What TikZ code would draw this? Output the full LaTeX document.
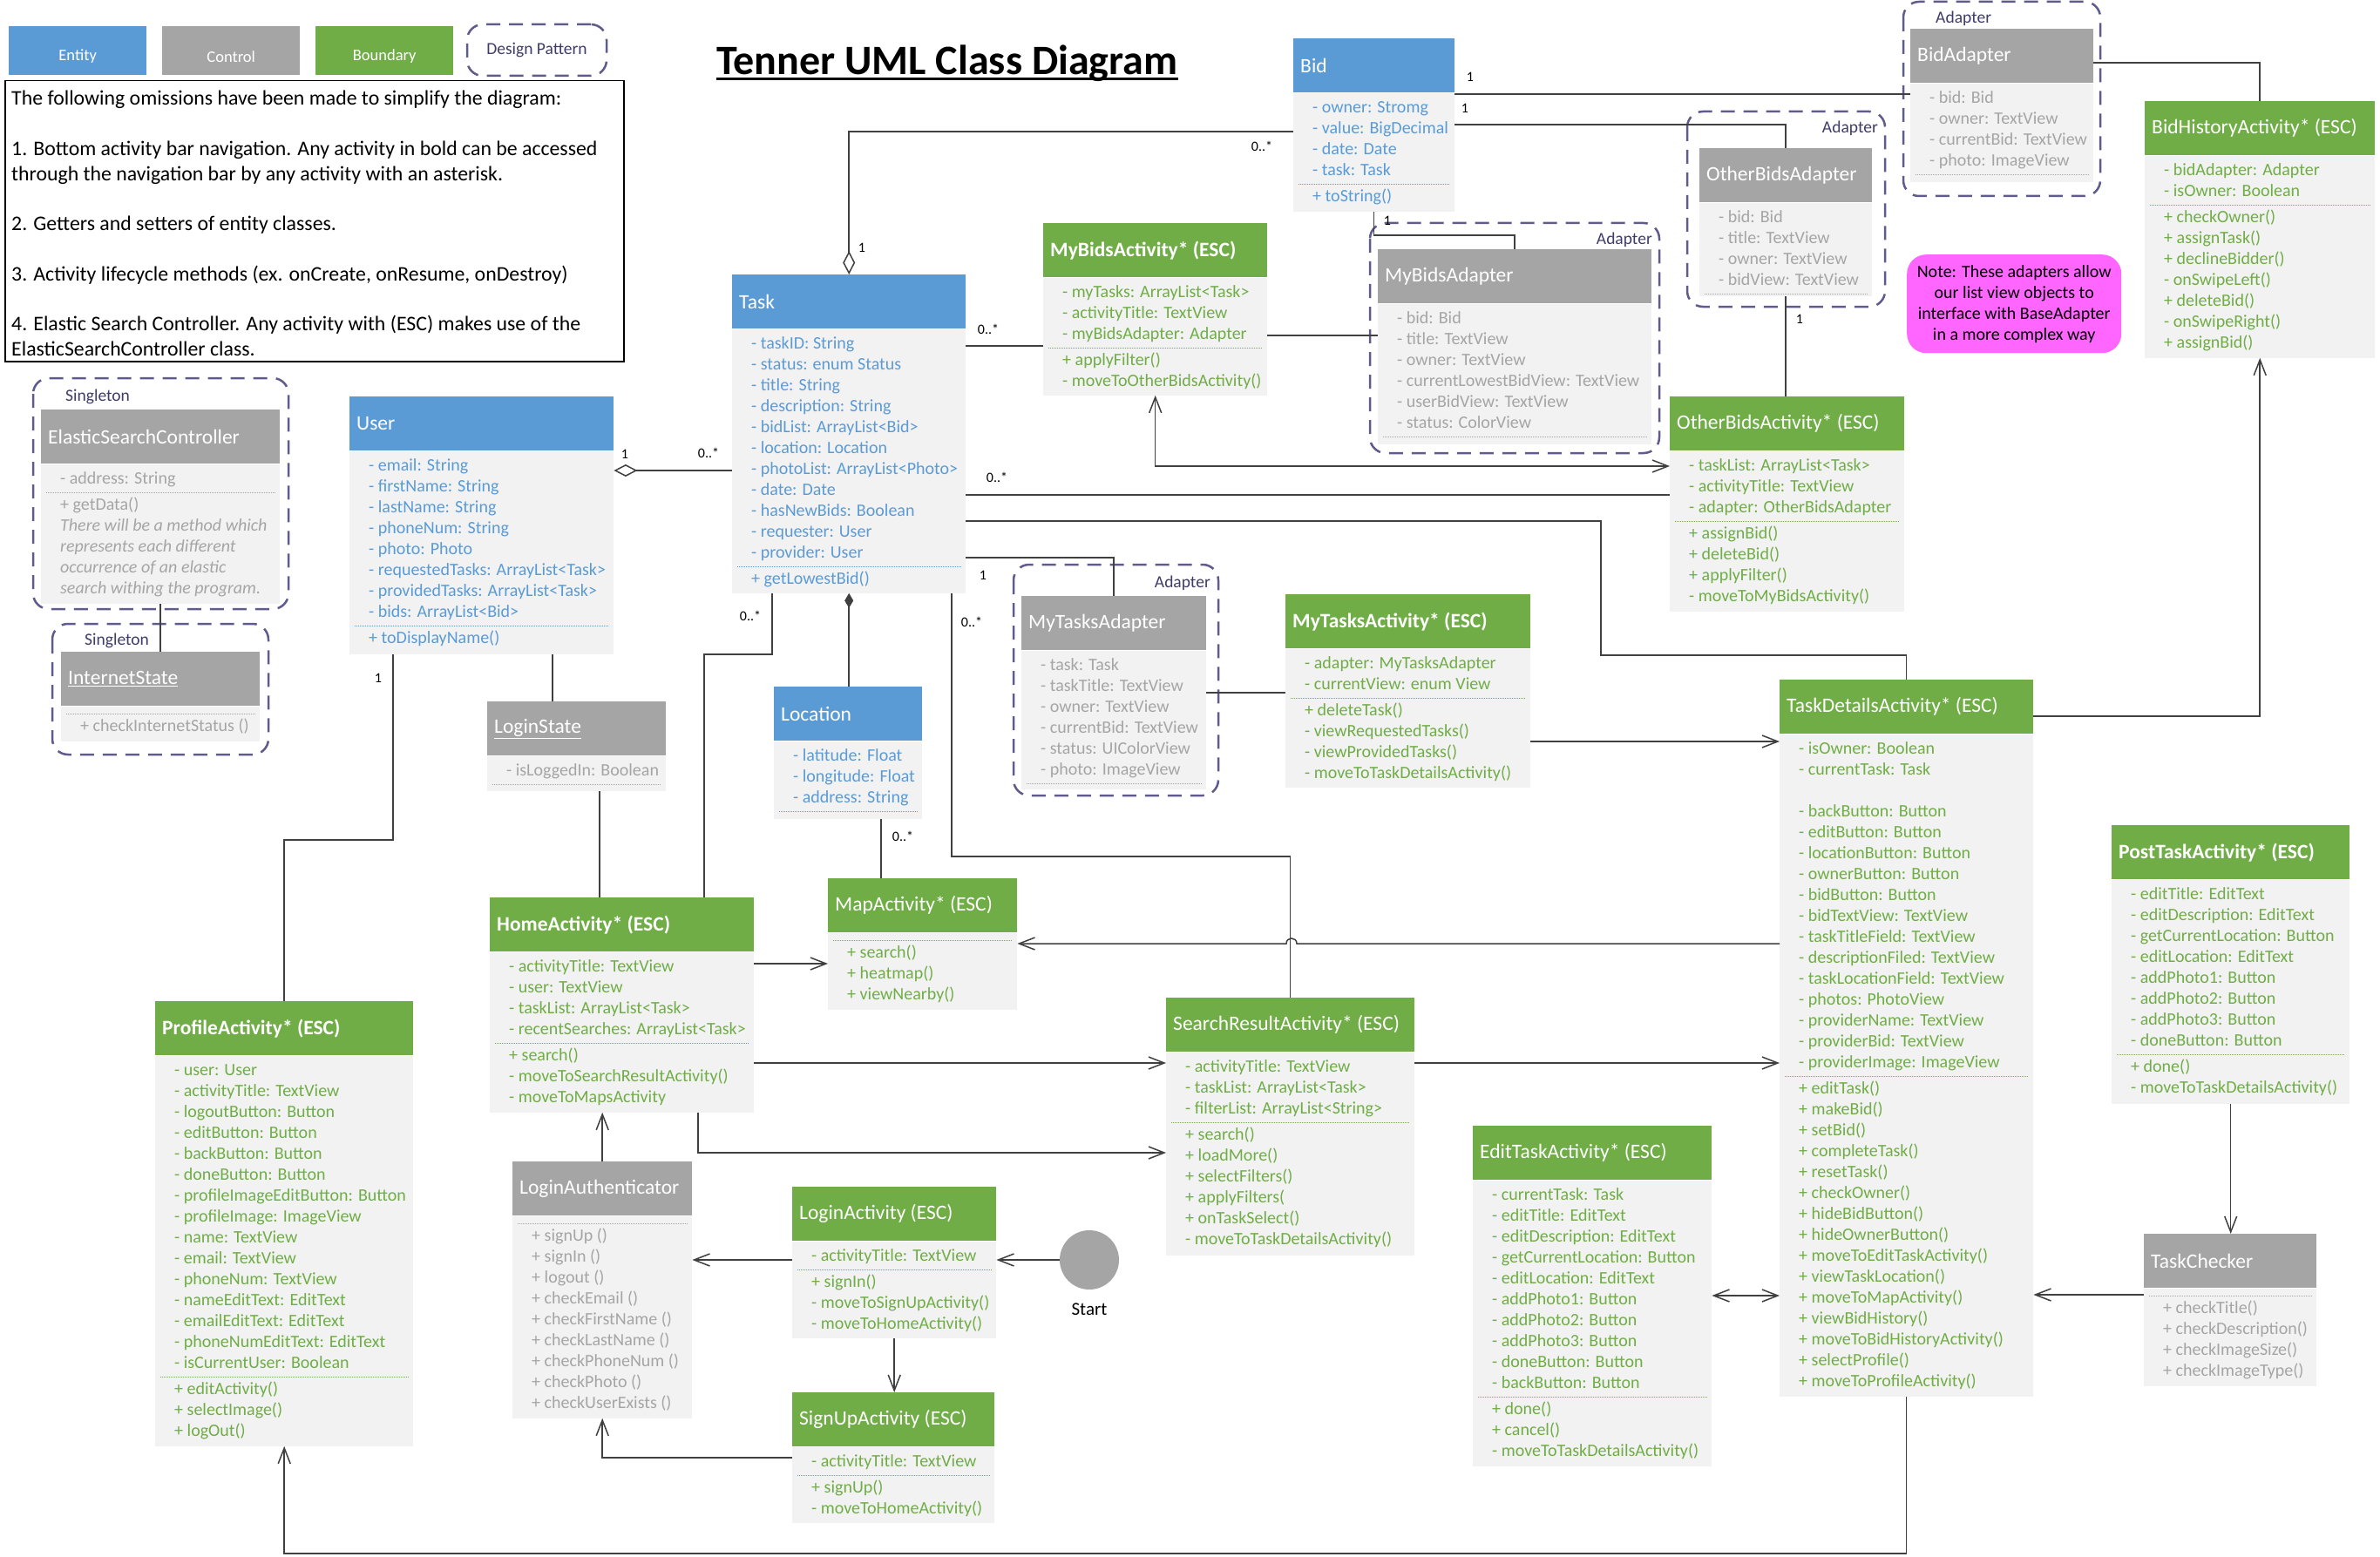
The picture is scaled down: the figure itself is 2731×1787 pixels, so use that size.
\documentclass[tikz,border=0pt]{standalone}
\usepackage{fontspec}
\setmainfont{Carlito}
\usetikzlibrary{arrows.meta,calc}

\definecolor{entc}{HTML}{5B9BD5}
\definecolor{ctlc}{HTML}{A5A5A5}
\definecolor{bndc}{HTML}{70AD47}
\definecolor{bodyc}{HTML}{F2F2F2}
\definecolor{patc}{HTML}{5F5B8C}
\definecolor{patt}{HTML}{3F3C6A}
\definecolor{linec}{HTML}{404040}
\definecolor{notec}{HTML}{FF66FF}

\tikzset{
  hdr/.style={anchor=north west, minimum height=62pt, inner sep=0pt},
  htext/.style={anchor=west, inner sep=0pt, text=white, font=\fontsize{23.5}{28}\selectfont},
  bodybox/.style={anchor=north west, fill=bodyc, inner sep=0pt},
  row/.style={anchor=west, inner sep=0pt, text height=14pt, text depth=4pt, font=\fontsize{20}{24}\selectfont},
  sepline/.style={line width=0.9pt, dash pattern=on 1pt off 1pt},
  dpat/.style={draw=patc, line width=2.5pt, dash pattern=on 16pt off 10pt, rounded corners=18pt},
  dlabel/.style={text=patt, inner sep=0pt, font=\fontsize{19.5}{23}\selectfont},
  legbox/.style={anchor=north west, minimum width=158pt, minimum height=56pt, inner sep=0pt},
  legtext/.style={inner sep=0pt, text=white, font=\fontsize{18.5}{22}\selectfont},
  link/.style={draw=linec, line width=1.5pt},
  nav/.style={link, -{Straight Barb[length=18pt,width=14pt]}},
  nav2/.style={link, {Straight Barb[length=18pt,width=14pt]}-{Straight Barb[length=18pt,width=14pt]}},
  aggr/.style={link, {Diamond[open,length=27pt,width=14pt]}-},
  comp/.style={link, {Diamond[length=17pt,width=10pt]}-},
  mult/.style={inner sep=0pt, font=\fontsize{16}{18}\selectfont},
}

\newdimen\rowy
\newcommand{\rowlist}[3]{% class, colour, lines
  \foreach \r in {#3}{%
    \node[row, text=#2] at ([xshift=22pt, yshift=-\the\rowy]#1.south west) {\r};
    \global\advance\rowy by 24pt}}
\newcommand{\umlclass}[9]{% name, colour, x, y, width, bottom, title, attributes, methods
  \node[hdr, fill=#2, minimum width=#5pt] (#1) at (#3,#4) {};
  \node[htext] (#1-t) at ([xshift=8pt]#1.west) {#7};
  \pgfmathsetmacro\bodyh{#6-#4-62}
  \node[bodybox, minimum width=#5pt, minimum height=\bodyh pt] (#1-b) at (#1.south west) {};
  \global\rowy=18pt
  \def\tmpa{#8}\ifx\tmpa\empty\else\rowlist{#1}{#2}{#8}\fi
  \global\advance\rowy by -9pt
  \draw[sepline, #2] ([xshift=6pt, yshift=-\the\rowy]#1.south west) -- ([xshift=-6pt, yshift=-\the\rowy]#1.south east);
  \global\advance\rowy by 15pt
  \def\tmpm{#9}\ifx\tmpm\empty\else\rowlist{#1}{#2}{#9}\fi}

\begin{document}
\begin{tikzpicture}[x=1pt, y=-1pt]
  \useasboundingbox (0,0) rectangle (2731,1787);
  \fill[white] (0,0) rectangle (2731,1787); %fond

  % legende
  \node[legbox, fill=entc] (legent) at (10,30) {};
  \node[legtext] (legent-t) at (legent.center |- 0,65) {Entity};
  \node[legbox, fill=ctlc] (legctl) at (186,30) {};
  \node[legtext] (legctl-t) at (legctl.center |- 0,65) {Control};
  \node[legbox, fill=bndc] (legbnd) at (362,30) {};
  \node[legtext] (legbnd-t) at (legbnd.center |- 0,65) {Boundary};
  \node[dpat, dlabel, minimum width=160pt, minimum height=59pt] (legpat) at (616,57.5) {Design Pattern};

  % titre
  \node[anchor=base west, inner sep=0pt, font=\fontsize{48}{56}\selectfont\bfseries] (title) at (822,86) {Tenner UML Class Diagram};
  \draw[line width=3pt] ([yshift=-5pt]title.base west) -- ([yshift=-5pt]title.base east); %souligne

  % omissions
  \node[draw=black, line width=1.5pt, anchor=north west, minimum width=710pt, minimum height=322pt, inner sep=0pt] (omit) at (5,92) {};
  \node[anchor=north west, align=left, inner sep=0pt, font=\fontsize{23.8}{28.8}\selectfont] (omit-t) at ([xshift=8pt, yshift=-12pt]omit.north west)
    {The following omissions have been made to simplify the diagram:\\[28.8pt]
     1. Bottom activity bar navigation. Any activity in bold can be accessed\\
     through the navigation bar by any activity with an asterisk.\\[28.8pt]
     2. Getters and setters of entity classes.\\[28.8pt]
     3. Activity lifecycle methods (ex. onCreate, onResume, onDestroy)\\[28.8pt]
     4. Elastic Search Controller. Any activity with (ESC) makes use of the\\
     ElasticSearchController class.};

  % design patterns
  \draw[dpat] (38,434) rectangle (331,699); %singleton ESC
  \node[dlabel, anchor=west] (sgl1) at (75,455) {Singleton};
  \draw[dpat] (60,716) rectangle (308,866); %singleton InternetState
  \node[dlabel, anchor=west] (sgl2) at (97,735) {Singleton};
  \draw[dpat] (1572,256) rectangle (1904,520); %adapter MyBids
  \node[dlabel, anchor=east] (adp1) at (1896,275) {Adapter};
  \draw[dpat] (1936,128) rectangle (2163,352); %adapter OtherBids
  \node[dlabel, anchor=east] (adp2) at (2155,147) {Adapter};
  \draw[dpat] (2184,2) rectangle (2410,225); %adapter Bid
  \node[dlabel, anchor=west] (adp3) at (2221,21) {Adapter};
  \draw[dpat] (1163,648) rectangle (1398,913); %adapter MyTasks
  \node[dlabel, anchor=east] (adp4) at (1389,669) {Adapter};

  % classes
  \umlclass{esc}{ctlc}{47}{470}{274}{692}{ElasticSearchController}{- address: String}
    {+ getData(), \textit{There will be a method which}, \textit{represents each different}, \textit{occurrence of an elastic}, \textit{search withing the program.}}
  \umlclass{inet}{ctlc}{70}{748}{228}{850}{\underline{InternetState}}{}{+ checkInternetStatus ()}
  \umlclass{user}{entc}{401}{455}{303}{750}{User}
    {- email: String, - firstName: String, - lastName: String, - phoneNum: String, - photo: Photo, - requestedTasks: ArrayList<Task>, - providedTasks: ArrayList<Task>, - bids: ArrayList<Bid>}
    {+ toDisplayName()}
  \umlclass{task}{entc}{840}{315}{268}{680}{Task}
    {- taskID: String, - status: enum Status, - title: String, - description: String, - bidList: ArrayList<Bid>, - location: Location, - photoList: ArrayList<Photo>, - date: Date, - hasNewBids: Boolean, - requester: User, - provider: User}
    {+ getLowestBid()}
  \umlclass{bid}{entc}{1484}{44}{185}{242}{Bid}{- owner: Stromg, - value: BigDecimal, - date: Date, - task: Task}{+ toString()}
  \umlclass{location}{entc}{888}{788}{170}{939}{Location}{- latitude: Float, - longitude: Float, - address: String}{}
  \umlclass{mybids}{bndc}{1197}{256}{257}{453}{\textbf{MyBidsActivity* (ESC)}}
    {- myTasks: ArrayList<Task>, - activityTitle: TextView, - myBidsAdapter: Adapter}
    {+ applyFilter(), - moveToOtherBidsActivity()}
  \umlclass{mybidsad}{ctlc}{1581}{286}{314}{509}{MyBidsAdapter}
    {- bid: Bid, - title: TextView, - owner: TextView, - currentLowestBidView: TextView, - userBidView: TextView, - status: ColorView}{}
  \umlclass{otherbidsad}{ctlc}{1950}{170}{198}{339}{OtherBidsAdapter}
    {- bid: Bid, - title: TextView, - owner: TextView, - bidView: TextView}{}
  \umlclass{bidad}{ctlc}{2192}{33}{210}{208}{BidAdapter}
    {- bid: Bid, - owner: TextView, - currentBid: TextView, - photo: ImageView}{}
  \umlclass{bidhist}{bndc}{2461}{116}{264}{410}{BidHistoryActivity* (ESC)}
    {- bidAdapter: Adapter, - isOwner: Boolean}
    {+ checkOwner(), + assignTask(), + declineBidder(), - onSwipeLeft(), + deleteBid(), - onSwipeRight(), + assignBid()}
  \umlclass{otherbids}{bndc}{1916}{455}{269}{701}{OtherBidsActivity* (ESC)}
    {- taskList: ArrayList<Task>, - activityTitle: TextView, - adapter: OtherBidsAdapter}
    {+ assignBid(), + deleteBid(), + applyFilter(), - moveToMyBidsActivity()}
  \umlclass{mytasksad}{ctlc}{1172}{684}{212}{905}{MyTasksAdapter}
    {- task: Task, - taskTitle: TextView, - owner: TextView, - currentBid: TextView, - status: UIColorView, - photo: ImageView}{}
  \umlclass{mytasks}{bndc}{1475}{682}{281}{903}{\textbf{MyTasksActivity* (ESC)}}
    {- adapter: MyTasksAdapter, - currentView: enum View}
    {+ deleteTask(), - viewRequestedTasks(), - viewProvidedTasks(), - moveToTaskDetailsActivity()}
  \umlclass{taskdet}{bndc}{2042}{780}{291}{1602}{TaskDetailsActivity* (ESC)}
    {- isOwner: Boolean, - currentTask: Task, {}, - backButton: Button, - editButton: Button, - locationButton: Button, - ownerButton: Button, - bidButton: Button, - bidTextView: TextView, - taskTitleField: TextView, - descriptionFiled: TextView, - taskLocationField: TextView, - photos: PhotoView, - providerName: TextView, - providerBid: TextView, - providerImage: ImageView}
    {+ editTask(), + makeBid(), + setBid(), + completeTask(), + resetTask(), + checkOwner(), + hideBidButton(), + hideOwnerButton(), + moveToEditTaskActivity(), + viewTaskLocation(), + moveToMapActivity(), + viewBidHistory(), + moveToBidHistoryActivity(), + selectProfile(), + moveToProfileActivity()}
  \umlclass{posttask}{bndc}{2423}{947}{273}{1266}{\textbf{PostTaskActivity* (ESC)}}
    {- editTitle: EditText, - editDescription: EditText, - getCurrentLocation: Button, - editLocation: EditText, - addPhoto1: Button, - addPhoto2: Button, - addPhoto3: Button, - doneButton: Button}
    {+ done(), - moveToTaskDetailsActivity()}
  \umlclass{checker}{ctlc}{2460}{1416}{198}{1590}{TaskChecker}{}
    {+ checkTitle(), + checkDescription(), + checkImageSize(), + checkImageType()}
  \umlclass{edittask}{bndc}{1690}{1292}{274}{1682}{EditTaskActivity* (ESC)}
    {- currentTask: Task, - editTitle: EditText, - editDescription: EditText, - getCurrentLocation: Button, - editLocation: EditText, - addPhoto1: Button, - addPhoto2: Button, - addPhoto3: Button, - doneButton: Button, - backButton: Button}
    {+ done(), + cancel(), - moveToTaskDetailsActivity()}
  \umlclass{search}{bndc}{1338}{1145}{285}{1440}{SearchResultActivity* (ESC)}
    {- activityTitle: TextView, - taskList: ArrayList<Task>, - filterList: ArrayList<String>}
    {+ search(), + loadMore(), + selectFilters(), + applyFilters(, + onTaskSelect(), - moveToTaskDetailsActivity()}
  \umlclass{map}{bndc}{950}{1008}{217}{1158}{MapActivity* (ESC)}{}{+ search(), + heatmap(), + viewNearby()}
  \umlclass{home}{bndc}{562}{1030}{303}{1276}{\textbf{HomeActivity* (ESC)}}
    {- activityTitle: TextView, - user: TextView, - taskList: ArrayList<Task>, - recentSearches: ArrayList<Task>}
    {+ search(), - moveToSearchResultActivity(), - moveToMapsActivity}
  \umlclass{loginstate}{ctlc}{559}{805}{205}{907}{\underline{LoginState}}{- isLoggedIn: Boolean}{}
  \umlclass{profile}{bndc}{178}{1149}{296}{1659}{\textbf{ProfileActivity* (ESC)}}
    {- user: User, - activityTitle: TextView, - logoutButton: Button, - editButton: Button, - backButton: Button, - doneButton: Button, - profileImageEditButton: Button, - profileImage: ImageView, - name: TextView, - email: TextView, - phoneNum: TextView, - nameEditText: EditText, - emailEditText: EditText, - phoneNumEditText: EditText, - isCurrentUser: Boolean}
    {+ editActivity(), + selectImage(), + logOut()}
  \umlclass{loginauth}{ctlc}{588}{1333}{206}{1627}{LoginAuthenticator}{}
    {+ signUp (), + signIn (), + logout (), + checkEmail (), + checkFirstName (), + checkLastName (), + checkPhoneNum (), + checkPhoto (), + checkUserExists ()}
  \umlclass{login}{bndc}{909}{1362}{234}{1535}{LoginActivity (ESC)}{- activityTitle: TextView}
    {+ signIn(), - moveToSignUpActivity(), - moveToHomeActivity()}
  \umlclass{signup}{bndc}{909}{1598}{232}{1747}{SignUpActivity (ESC)}{- activityTitle: TextView}
    {+ signUp(), - moveToHomeActivity()}

  % note
  \node[fill=notec, rounded corners=22pt, anchor=north west, minimum width=246pt, minimum height=113pt, inner sep=0pt, align=center, font=\fontsize{20}{24}\selectfont] (note) at (2188,292)
    {Note: These adapters allow\\our list view objects to\\interface with BaseAdapter\\in a more complex way};

  % start
  \node[circle, fill=ctlc, minimum size=68pt, inner sep=0pt] (start) at (1250,1446) {};
  \node[inner sep=0pt, font=\fontsize{21}{24}\selectfont] (start-l) at (1250,1503) {Start};

  % liens
  \draw[aggr] (task.north) |- (bid-b.west |- 0,151); %Task - Bid
  \draw[aggr] (user-b.east |- 0,540) -- (task-b.west |- 0,540); %User - Task
  \draw[link] (task-b.east |- 0,397) -- (mybids-b.west |- 0,397); %Task - MyBids
  \draw[link] (mybids-b.east |- 0,385) -- (mybidsad-b.west |- 0,385); %MyBids - adapter
  \draw[link] (bid-b.south) -- (bid-b.south |- 0,270) -| (mybidsad.north); %Bid - MyBidsAdapter
  \draw[link] (bid-b.east |- 0,143) -| (otherbidsad.north); %Bid - OtherBidsAdapter
  \draw[link] (bid-b.east |- 0,108) -- (bidad-b.west |- 0,108); %Bid - BidAdapter
  \draw[link] (bidad.east |- 0,72) -| (bidhist.north); %BidAdapter - BidHistory
  \draw[link] (otherbidsad-b.south) -- (otherbidsad-b.south |- otherbids.north); %adapter - OtherBids
  \draw[nav2] (mybids-b.south) |- (otherbids-b.west |- 0,535); %MyBids <-> OtherBids
  \draw[link] (task-b.east |- 0,568) -- (otherbids-b.west |- 0,568); %Task - OtherBids
  \draw[link] (task-b.east |- 0,598) -| (1837,752) -| (taskdet.north); %Task - TaskDetails
  \draw[link] (task-b.east |- 0,640) -| (mytasksad.north); %Task - MyTasksAdapter
  \draw[link] (mytasksad-b.east |- 0,795) -- (mytasks-b.west |- 0,795); %adapter - MyTasks
  \draw[nav] (mytasks-b.east |- 0,851) -- (taskdet-b.west |- 0,851); %MyTasks -> TaskDetails
  \draw[link] (task-b.south -| 1092,0) |- (search.north |- 0,983) -- (search.north); %Task - Search
  \draw[link] (task-b.south -| 886,0) |- (808,751) -- (home.north -| 808,0); %Task - Home
  \draw[comp] (task-b.south) -- (task-b.south |- location.north); %Task - Location
  \draw[link] (location-b.south -| 1011,0) -- (map.north -| 1011,0); %Location - Map
  \draw[nav] (taskdet-b.west |- 0,1083) -- (1488,1083) .. controls (1488,1075) and (1476,1075) .. (1476,1083) -- (map-b.east |- 0,1083); %TaskDetails -> Map
  \draw[nav] (taskdet.east |- 0,822) -| (bidhist-b.south); %TaskDetails -> BidHistory
  \draw[nav] (home-b.east |- 0,1106) -- (map-b.west |- 0,1106); %Home -> Map
  \draw[nav] (home-b.east |- 0,1220) -- (search-b.west |- 0,1220); %Home -> Search
  \draw[nav] (home-b.south -| 801,0) |- (search-b.west |- 0,1323); %Home -> Search
  \draw[nav] (search-b.east |- 0,1220) -- (taskdet-b.west |- 0,1220); %Search -> TaskDetails
  \draw[nav2] (edittask-b.east |- 0,1487) -- (taskdet-b.west |- 0,1487); %EditTask <-> TaskDetails
  \draw[nav] (checker-b.west |- 0,1486) -- (taskdet-b.east |- 0,1486); %TaskChecker -> TaskDetails
  \draw[nav] (posttask-b.south) -- (posttask-b.south |- checker.north); %PostTask -> TaskChecker
  \draw[nav] (taskdet-b.south) -- (taskdet-b.south |- 0,1783) -| (profile-b.south); %TaskDetails -> Profile
  \draw[link] (user-b.south -| 451,0) |- (profile.north |- 0,964) -- (profile.north); %User - Profile
  \draw[link] (user-b.south -| 634,0) -- (loginstate.north -| 634,0); %User - LoginState
  \draw[link] (loginstate-b.south -| 688,0) -- (home.north -| 688,0); %LoginState - Home
  \draw[nav] (loginauth.north) -- (loginauth.north |- home-b.south); %LoginAuth -> Home
  \draw[nav] (login-b.west |- 0,1446) -- (loginauth-b.east |- 0,1446); %Login -> LoginAuth
  \draw[nav] (signup-b.west |- 0,1673) -| (loginauth-b.south); %SignUp -> LoginAuth
  \draw[nav] (login-b.south) -- (login-b.south |- signup.north); %Login -> SignUp
  \draw[nav] (start.west) -- (login-b.east |- start.west); %Start -> Login
  \draw[link] (esc-b.south) -- (inet.north); %ESC - InternetState

  % multiplicites
  \node[mult] (m1) at (989,284) {1};
  \node[mult] (m2) at (1448,168) {0..*};
  \node[mult] (m3) at (717,521) {1};
  \node[mult] (m4) at (813,520) {0..*};
  \node[mult] (m5) at (1134,378) {0..*};
  \node[mult] (m6) at (1144,548) {0..*};
  \node[mult] (m7) at (1128,660) {1};
  \node[mult] (m8) at (861,707) {0..*};
  \node[mult] (m9) at (1115,714) {0..*};
  \node[mult] (m10) at (1036,960) {0..*};
  \node[mult] (m11) at (434,778) {1};
  \node[mult] (m12) at (1592,253) {1};
  \node[mult] (m13) at (1687,88) {1};
  \node[mult] (m14) at (1681,124) {1};
  \node[mult] (m15) at (2065,366) {1};
\end{tikzpicture}
\end{document}
